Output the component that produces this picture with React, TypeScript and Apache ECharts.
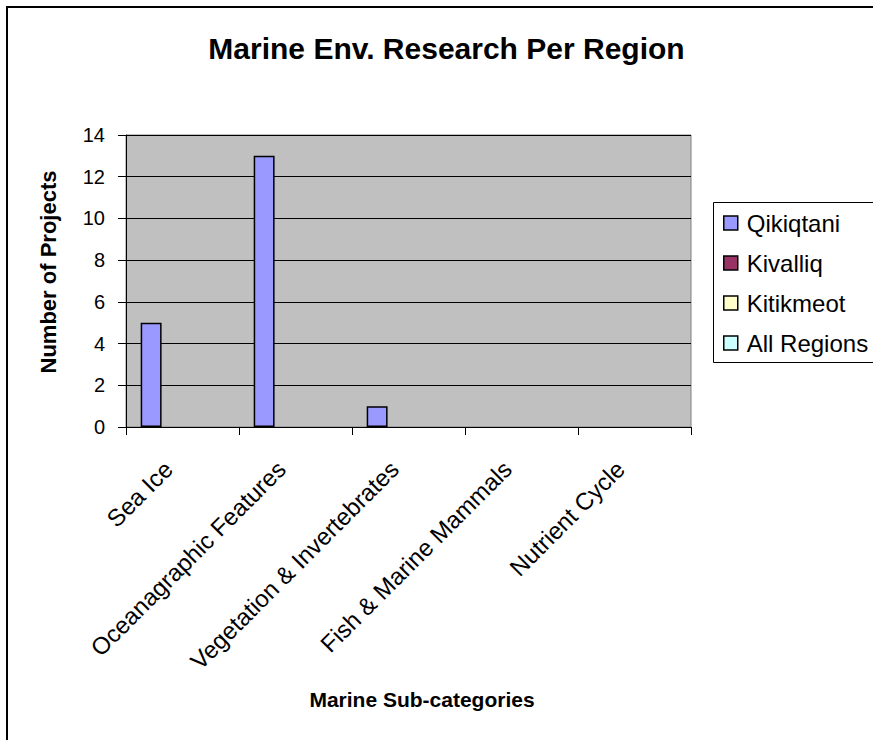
import React, { useEffect, useRef } from "react";
import * as echarts from "echarts";

const categories = [
  "Sea Ice",
  "Oceanagraphic Features",
  "Vegetation & Invertebrates",
  "Fish & Marine Mammals",
  "Nutrient Cycle",
];
const seriesNames = ["Qikiqtani", "Kivalliq", "Kitikmeot", "All Regions"];
const qikiqtani = [5, 13, 1, 0, 0];
const kivalliq = [0, 0, 0, 0, 0];
const kitikmeot = [0, 0, 0, 0, 0];
const allRegions = [0, 0, 0, 0, 0];
const seriesColors = ["#9999FF", "#993366", "#FFFFCC", "#CCFFFF"];
const yTicks = { min: 0, max: 14, interval: 2 };

const titleText = "Marine Env. Research Per Region";
const yTitle = "Number of Projects";
const xTitle = "Marine Sub-categories";

const FONT = "'Liberation Sans', Arial, sans-serif";

export default function App() {
  const ref = useRef<HTMLDivElement>(null);
  useEffect(() => {
    if (!ref.current) return;
    const chart = echarts.init(ref.current, undefined, { renderer: "svg" });
    const values = [qikiqtani, kivalliq, kitikmeot, allRegions];
    chart.setOption({
      animation: false,
      backgroundColor: "#FFFFFF",
      textStyle: { fontFamily: FONT, color: "#000" },
      grid: {
        left: 126,
        top: 135,
        width: 565,
        height: 292,
        show: true,
        backgroundColor: "#C0C0C0",
        borderColor: "#808080",
        borderWidth: 1,
        containLabel: false,
      },
      legend: {
        orient: "vertical",
        left: 723,
        top: 210,
        padding: 0,
        icon: "rect",
        itemWidth: 14,
        itemHeight: 14,
        itemGap: 14,
        data: seriesNames,
        selectedMode: false,
        itemStyle: { borderColor: "#000", borderWidth: 1.5 },
        textStyle: {
          fontFamily: FONT,
          fontSize: 24,
          lineHeight: 26,
          color: "#000",
          padding: [0, 0, 0, 4],
        },
      },
      xAxis: {
        type: "category",
        data: categories,
        axisLine: { show: true, lineStyle: { color: "#000", width: 1 } },
        axisTick: { show: true, length: 8, interval: 0, lineStyle: { color: "#000" } },
        axisLabel: {
          interval: 0,
          rotate: 45,
          margin: 24,
          padding: [0, 20, 0, 0],
          fontFamily: FONT,
          fontSize: 24,
          color: "#000",
        },
        splitLine: { show: false },
      },
      yAxis: {
        type: "value",
        min: yTicks.min,
        max: yTicks.max,
        interval: yTicks.interval,
        axisLine: { show: true, lineStyle: { color: "#000", width: 1 } },
        axisTick: { show: true, length: 8, lineStyle: { color: "#000" } },
        axisLabel: { margin: 21, fontFamily: FONT, fontSize: 20, color: "#000" },
        splitLine: { show: true, lineStyle: { color: "#000", width: 1 } },
      },
      series: seriesNames.map((name, i) => ({
        name,
        type: "bar",
        data: values[i].map((v) =>
          v === 0 ? { value: v, itemStyle: { borderWidth: 0 } } : v
        ),
        barGap: "0%",
        barCategoryGap: "26%",
        itemStyle: { color: seriesColors[i], borderColor: "#000", borderWidth: 1.5 },
      })),
      graphic: [
        {
          type: "polyline",
          silent: true,
          shape: { points: [[7, 740], [7, 7], [873, 7]] },
          style: { fill: "none", stroke: "#000", lineWidth: 2 },
        },
        {
          type: "polyline",
          silent: true,
          shape: { points: [[873, 202.5], [713.5, 202.5], [713.5, 362.5], [873, 362.5]] },
          style: { fill: "none", stroke: "#000", lineWidth: 1 },
        },
        {
          type: "text",
          silent: true,
          x: 446.5,
          y: 48,
          style: {
            text: titleText,
            textAlign: "center",
            textVerticalAlign: "middle",
            font: `bold 30px ${FONT}`,
            fill: "#000",
          },
        },
        {
          type: "text",
          silent: true,
          x: 48,
          y: 272,
          rotation: Math.PI / 2,
          style: {
            text: yTitle,
            textAlign: "center",
            textVerticalAlign: "middle",
            font: `bold 22px ${FONT}`,
            fill: "#000",
          },
        },
        {
          type: "text",
          silent: true,
          x: 422,
          y: 699,
          style: {
            text: xTitle,
            textAlign: "center",
            textVerticalAlign: "middle",
            font: `bold 21px ${FONT}`,
            fill: "#000",
          },
        },
      ],
    });
    return () => chart.dispose();
  }, []);
  return (
    <div
      ref={ref}
      style={{ position: "fixed", left: 0, top: 0, width: 873, height: 740 }}
    />
  );
}
